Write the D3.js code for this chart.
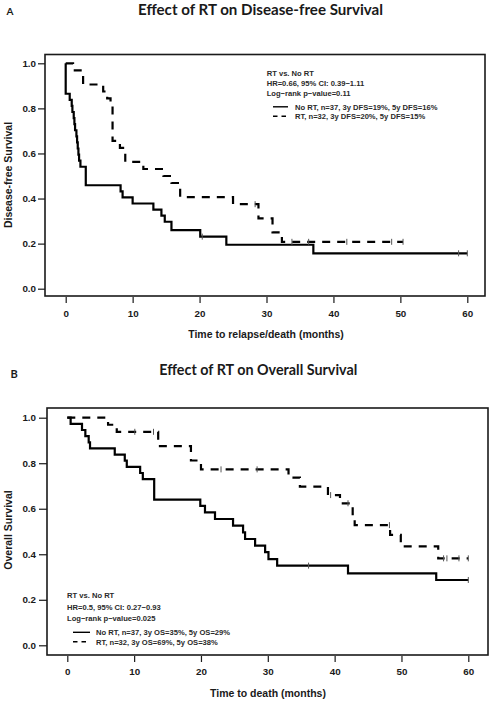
<!DOCTYPE html>
<html><head><meta charset="utf-8">
<script src="https://cdn.jsdelivr.net/npm/d3@7"></script>
<style>body{margin:0;background:#fff;} svg{display:block;}</style>
</head><body>
<script>
// ---------- data ----------
const xTicks = [0, 10, 20, 30, 40, 50, 60];
const yTicks = [0, 0.2, 0.4, 0.6, 0.8, 1.0];

// Panel A: disease-free survival
const dfsNoRtTime = [0, 0, 0.6, 0.9, 1.0, 1.2, 1.3, 1.4, 1.6, 1.7, 1.8, 1.9, 2.0, 2.2, 3.0, 8.2, 8.5, 10.0, 13.1, 14.3, 14.8, 15.8, 20.1, 24.0, 37.0];
const dfsNoRtSurv = [1, 0.865, 0.838, 0.811, 0.784, 0.757, 0.730, 0.703, 0.676, 0.649, 0.622, 0.595, 0.568, 0.541, 0.459, 0.432, 0.405, 0.378, 0.351, 0.324, 0.297, 0.260, 0.231, 0.195, 0.157];
const dfsNoRtEnd = 60;
const dfsNoRtCensor = [20.4, 58.7, 60];

const dfsRtTime = [0, 1.1, 2.6, 5.6, 6.2, 6.7, 7.0, 8.1, 8.9, 11.6, 14.6, 15.8, 17.1, 25.0, 28.8, 30.9, 32.3];
const dfsRtSurv = [1, 0.969, 0.906, 0.875, 0.844, 0.812, 0.656, 0.625, 0.563, 0.531, 0.500, 0.469, 0.406, 0.375, 0.312, 0.250, 0.208];
const dfsRtEnd = 50.4;
const dfsRtCensor = [28.3, 33.8, 36.3, 42.0, 48.7, 50.4];

// Panel B: overall survival
const osNoRtTime = [0, 0.5, 2.2, 2.7, 3.2, 3.4, 7.1, 8.6, 8.9, 10.9, 11.3, 13.0, 19.9, 20.6, 22.1, 24.8, 26.3, 26.6, 28.1, 29.6, 30.1, 31.4, 42.0, 55.2];
const osNoRtSurv = [1, 0.973, 0.946, 0.919, 0.892, 0.865, 0.838, 0.811, 0.784, 0.757, 0.730, 0.640, 0.613, 0.584, 0.555, 0.526, 0.496, 0.467, 0.438, 0.409, 0.379, 0.350, 0.316, 0.287];
const osNoRtEnd = 60;
const osNoRtCensor = [36.1, 60];

const osRtTime = [0, 6.1, 7.4, 13.6, 18.5, 20.0, 33.1, 34.8, 39.0, 40.8, 42.7, 43.0, 48.3, 49.9, 55.5];
const osRtSurv = [1, 0.969, 0.938, 0.875, 0.812, 0.773, 0.737, 0.697, 0.660, 0.624, 0.576, 0.528, 0.485, 0.435, 0.382];
const osRtEnd = 60;
const osRtCensor = [10.1, 12.9, 23.0, 28.4, 39.4, 42.0, 48.2, 56.3, 56.8, 58.6, 60];

const titleA = "Effect of RT on Disease-free Survival";
const titleB = "Effect of RT on Overall Survival";
const xLabelA = "Time to relapse/death (months)";
const xLabelB = "Time to death (months)";
const yLabelA = "Disease-free Survival";
const yLabelB = "Overall Survival";
const statsA = ["RT vs. No RT", "HR=0.66, 95% CI: 0.39\u22121.11", "Log\u2212rank p\u2212value=0.11"];
const legendA = ["No RT, n=37, 3y DFS=19%, 5y DFS=16%", "RT, n=32, 3y DFS=20%, 5y DFS=15%"];
const statsB = ["RT vs. No RT", "HR=0.5, 95% CI: 0.27\u22120.93", "Log\u2212rank p\u2212value=0.025"];
const legendB = ["No RT, n=37, 3y OS=35%, 5y OS=29%", "RT, n=32, 3y OS=69%, 5y OS=38%"];

// ---------- drawing ----------
const W = 491, H = 701;
const svg = d3.select("body").append("svg").attr("width", W).attr("height", H);
const AX_FONT = "'Liberation Sans', Arial, sans-serif";
const TITLE_FONT = "Lato, 'Open Sans', sans-serif";
const INK = "#1a1a1a";

function fitText(sel, target) {
  const w = sel.node().getComputedTextLength();
  const fs = parseFloat(sel.attr("font-size"));
  sel.attr("font-size", (fs * target / w).toFixed(2));
}

function drawPanel(cfg) {
  const x = d3.scaleLinear().domain([0, 60]).range(cfg.xr);
  const y = d3.scaleLinear().domain([0, 1]).range(cfg.yr);
  const g = svg.append("g");

  // panel letter and title
  g.append("text").attr("x", cfg.letterX).attr("y", cfg.letterY).text(cfg.letter)
    .attr("font-family", TITLE_FONT).attr("font-weight", 700).attr("font-size", cfg.letterSize).attr("fill", INK);
  const t = g.append("text").attr("x", cfg.titleCx).attr("y", cfg.titleY).attr("text-anchor", "middle")
    .attr("font-family", TITLE_FONT).attr("font-weight", 700).attr("font-size", 16).attr("fill", INK).text(cfg.title);
  fitText(t, cfg.titleW);

  // box
  const [bx0, by0, bx1, by1] = cfg.box;
  g.append("rect").attr("x", bx0).attr("y", by0).attr("width", bx1 - bx0).attr("height", by1 - by0)
    .attr("fill", "none").attr("stroke", INK).attr("stroke-width", 1.6);

  // x axis
  const xa = g.append("g").attr("transform", `translate(0,${by1 + 1})`)
    .call(d3.axisBottom(x).tickValues(xTicks).tickSize(6).tickSizeOuter(0).tickFormat(d3.format("d")));
  xa.select(".domain").remove();
  xa.attr("font-family", AX_FONT).attr("font-size", 9.8).attr("font-weight", 700).attr("color", INK);
  xa.selectAll("line").attr("stroke-width", 1.2);
  xa.selectAll("text").attr("y", cfg.xTickBase - by1 - 1).attr("dy", null);

  // y axis
  const ya = g.append("g").attr("transform", `translate(${bx0},0)`)
    .call(d3.axisLeft(y).tickValues(yTicks).tickSize(cfg.yTickLen).tickPadding(cfg.yTickPad).tickSizeOuter(0).tickFormat(d3.format(".1f")));
  ya.select(".domain").remove();
  ya.attr("font-family", AX_FONT).attr("font-size", 9.8).attr("font-weight", 700).attr("color", INK);
  ya.selectAll("line").attr("stroke-width", 1.2);

  // axis titles
  g.append("text").attr("x", cfg.xLabelCx).attr("y", cfg.xLabelY).attr("text-anchor", "middle")
    .attr("font-family", AX_FONT).attr("font-weight", 700).attr("font-size", 10.5).attr("fill", INK).text(cfg.xLabel);
  g.append("text").attr("transform", `translate(${cfg.yLabelX},${cfg.yLabelCy}) rotate(-90)`).attr("text-anchor", "middle")
    .attr("font-family", AX_FONT).attr("font-weight", 700).attr("font-size", 10.5).attr("fill", INK).text(cfg.yLabel);

  // curves
  const line = d3.line().x(d => x(d[0])).y(d => y(d[1])).curve(d3.curveStepAfter);
  cfg.series.forEach(s => {
    const pts = s.time.map((tt, i) => [tt, s.surv[i]]);
    pts.push([s.end, s.surv[s.surv.length - 1]]);
    g.append("path").attr("d", line(pts)).attr("fill", "none").attr("stroke", "#000")
      .attr("stroke-width", 2.2).attr("stroke-dasharray", s.dash ? "8,7" : null);
    const survAt = tt => { let v = s.surv[0]; s.time.forEach((ti, i) => { if (ti <= tt) v = s.surv[i]; }); return v; };
    s.censor.forEach(c => {
      const cx = x(c), cy = y(survAt(c));
      g.append("line").attr("x1", cx).attr("x2", cx).attr("y1", cy - 3).attr("y2", cy + 3)
        .attr("stroke", "#555").attr("stroke-width", 1);
    });
  });

  // stats + legend
  const lg = g.append("g").attr("font-family", AX_FONT).attr("font-size", 7.6).attr("font-weight", 700).attr("fill", "#2a2a2a");
  cfg.stats.forEach((s, i) => lg.append("text").attr("x", cfg.statsX).attr("y", cfg.statsY[i]).text(s));
  cfg.legend.forEach((s, i) => {
    lg.append("line").attr("x1", cfg.legLineX[0]).attr("x2", cfg.legLineX[1])
      .attr("y1", cfg.legY[i] - 2.7).attr("y2", cfg.legY[i] - 2.7)
      .attr("stroke", "#000").attr("stroke-width", 1.4).attr("stroke-dasharray", i === 1 ? "4.5,4" : null);
    lg.append("text").attr("x", cfg.legTextX).attr("y", cfg.legY[i]).text(s);
  });
}

drawPanel({
  letter: "A", letterX: 6.5, letterY: 15, letterSize: 10,
  title: titleA, titleCx: 260.5, titleY: 15, titleW: 245,
  box: [45, 54.5, 485, 296], xr: [65.7, 467.3], yr: [288.7, 63.3],
  xTickBase: 316.7, yTickLen: 7, yTickPad: 2,
  xLabel: xLabelA, xLabelCx: 266, xLabelY: 337.5,
  yLabel: yLabelA, yLabelX: 11.8, yLabelCy: 175,
  series: [
    { time: dfsNoRtTime, surv: dfsNoRtSurv, end: dfsNoRtEnd, censor: dfsNoRtCensor, dash: false },
    { time: dfsRtTime, surv: dfsRtSurv, end: dfsRtEnd, censor: dfsRtCensor, dash: true }
  ],
  stats: statsA, statsX: 266.7, statsY: [75.5, 86, 96],
  legend: legendA, legLineX: [273, 288], legTextX: 295, legY: [109.5, 119]
});

drawPanel({
  letter: "B", letterX: 10.5, letterY: 377.5, letterSize: 11,
  title: titleB, titleCx: 258.3, titleY: 375, titleW: 198,
  box: [47, 408, 488, 655], xr: [67.3, 468.3], yr: [645.3, 417.7],
  xTickBase: 675, yTickLen: 8, yTickPad: 3,
  xLabel: xLabelB, xLabelCx: 268, xLabelY: 697,
  yLabel: yLabelB, yLabelX: 12.3, yLabelCy: 530,
  series: [
    { time: osNoRtTime, surv: osNoRtSurv, end: osNoRtEnd, censor: osNoRtCensor, dash: false },
    { time: osRtTime, surv: osRtSurv, end: osRtEnd, censor: osRtCensor, dash: true }
  ],
  stats: statsB, statsX: 67, statsY: [598, 609.5, 620.5],
  legend: legendB, legLineX: [73, 90], legTextX: 96, legY: [635, 644.5]
});
</script>
</body></html>
